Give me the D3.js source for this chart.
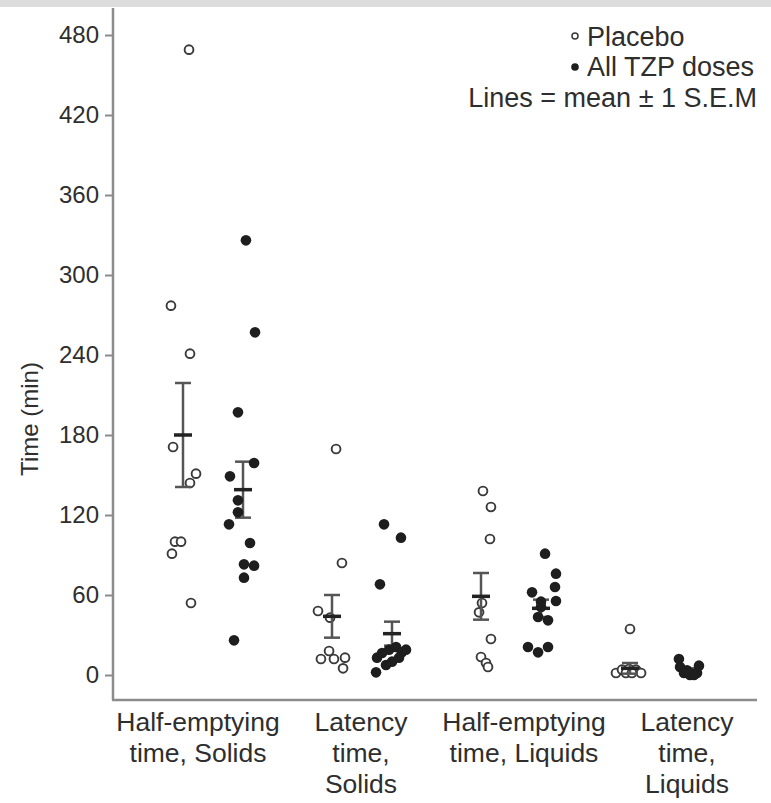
<!DOCTYPE html>
<html><head><meta charset="utf-8">
<script src="https://cdn.jsdelivr.net/npm/d3@7"></script>
<style>
html,body{margin:0;padding:0;background:#fff;}
svg{display:block;font-family:"Liberation Sans",Arial,Helvetica,sans-serif;}
</style></head>
<body><svg id="c" width="771" height="803"></svg>
<script>
// ---- data ----
const categories = ["HES", "LTS", "HEL", "LTL"];
const categoryLabels = [
  ["Half-emptying", "time, Solids"],
  ["Latency", "time,", "Solids"],
  ["Half-emptying", "time, Liquids"],
  ["Latency", "time,", "Liquids"]
];
const series = ["Placebo", "All TZP doses"];
const yTicks = [0, 60, 120, 180, 240, 300, 360, 420, 480];

const placeboValues = [
  [469, 277, 241, 171, 151, 144, 100, 100, 91, 54],
  [169.5, 84, 48, 43, 18, 12, 12, 13, 5],
  [138, 126, 102, 54, 47, 27, 13.5, 9, 6],
  [34.5, 1.5, 4, 4.5, 4, 1.5, 1.5, 1.5]
];
const placeboJitter = [
  [0.43, -0.86, 0.5, -0.71, 0.93, 0.5, -0.57, -0.14, -0.79, 0.57],
  [0.29, 0.71, -1.0, -0.14, -0.21, -0.79, 0.14, 0.93, 0.79],
  [0.14, 0.71, 0.64, 0.07, -0.14, 0.71, 0.0, 0.36, 0.5],
  [0.0, -1.0, -0.57, -0.07, 0.43, 0.79, -0.29, 0.14]
];
const tzpValues = [
  [326, 257, 197, 159, 149, 131, 122, 113, 99, 83, 82, 73, 26],
  [113, 103, 68, 13, 16.5, 19, 21, 17, 10, 7.5, 2, 13, 19],
  [91, 76, 66, 62, 55.5, 55, 51, 43.5, 41, 21, 17, 21],
  [12, 6, 1.5, 0, 1.5, 7, 0, 3.5]
];
const tzpJitter = [
  [0.21, 0.86, -0.36, 0.79, -0.93, -0.36, -0.36, -1.0, 0.5, 0.07, 0.79, 0.07, -0.64],
  [-0.57, 0.64, -0.86, -1.07, -0.71, -0.21, 0.29, 0.71, 0.0, -0.43, -1.14, 0.5, 1.0],
  [0.29, 1.07, 1.0, -0.64, 1.07, 0.0, 0.0, -0.21, 0.5, -0.93, -0.21, 0.5],
  [-0.79, -0.71, -0.43, 0.0, 0.5, 0.64, 0.29, -0.21]
];
const placeboMean = [180, 44, 59, 5];
const placeboSEM  = [39, 16, 17.5, 4];
const tzpMean = [139, 31, 50, 3.5];
const tzpSEM  = [21, 9, 6.5, 1.5];

// ---- drawing ----
const svg = d3.select("#c");
const textColor = "#2e2e2e";
const axisColor = "#8c8c8c";

svg.append("rect").attr("x", 0).attr("y", 0).attr("width", 771).attr("height", 7).attr("fill", "#dcdcdc");

const y = d3.scaleLinear().domain([0, 480]).range([675, 35]);
const xGroup = d3.scaleBand().domain(categories).range([138.5, 734.5]);
const xSeries = d3.scalePoint().domain(series).range([-30, 30]);
const xLabel = d3.scalePoint().domain(categories).range([198, 687]);
const jit = d3.scaleLinear().domain([-1, 1]).range([-14, 14]);
const cx = (ci, s) => xGroup(categories[ci]) + xGroup.bandwidth() / 2 + xSeries(s);

const axisX0 = 113, axisY0 = 700;

// y axis
const yAxis = d3.axisLeft(y).tickValues(yTicks).tickSize(8).tickPadding(6).tickSizeOuter(0);
const gy = svg.append("g").attr("transform", `translate(${axisX0},0)`).call(yAxis);
gy.select(".domain").remove();
gy.selectAll(".tick line").attr("stroke", axisColor).attr("stroke-width", 2);
gy.selectAll(".tick text").attr("fill", textColor).style("font-size", "24px")
  .style("font-family", "'Liberation Sans',Arial,sans-serif");
svg.append("line").attr("x1", axisX0).attr("x2", axisX0).attr("y1", 8).attr("y2", axisY0)
  .attr("stroke", axisColor).attr("stroke-width", 2.5);
svg.append("line").attr("x1", axisX0 - 1).attr("x2", 757).attr("y1", axisY0).attr("y2", axisY0)
  .attr("stroke", axisColor).attr("stroke-width", 2.5);

// y label
svg.append("text").attr("transform", "translate(38,419) rotate(-90)")
  .attr("text-anchor", "middle").attr("fill", textColor).style("font-size", "24px").text("Time (min)");

// category labels
categories.forEach((c, i) => {
  const t = svg.append("text").attr("text-anchor", "middle").attr("fill", textColor)
    .style("font-size", "26.5px");
  categoryLabels[i].forEach((line, k) => {
    t.append("tspan").attr("x", xLabel(c)).attr("y", 731 + k * 31).text(line);
  });
});

// error bars
function errorBar(ci, s, mean, sem) {
  const x = cx(ci, s);
  const g = svg.append("g");
  g.append("line").attr("x1", x).attr("x2", x).attr("y1", y(mean + sem)).attr("y2", y(mean - sem))
    .attr("stroke", "#555").attr("stroke-width", 2.5);
  [mean + sem, mean - sem].forEach(v => {
    g.append("line").attr("x1", x - 8).attr("x2", x + 8).attr("y1", y(v)).attr("y2", y(v))
      .attr("stroke", "#555").attr("stroke-width", 2.5);
  });
  g.append("line").attr("x1", x - 9).attr("x2", x + 9).attr("y1", y(mean)).attr("y2", y(mean))
    .attr("stroke", "#222").attr("stroke-width", 3.5);
}

// points
categories.forEach((c, ci) => {
  svg.append("g").selectAll("circle").data(placeboValues[ci]).join("circle")
    .attr("cx", (d, k) => cx(ci, series[0]) + jit(placeboJitter[ci][k]))
    .attr("cy", d => y(d)).attr("r", 4.4)
    .attr("fill", "#fff").attr("stroke", "#3a3a3a").attr("stroke-width", 1.9);
  errorBar(ci, series[0], placeboMean[ci], placeboSEM[ci]);
  errorBar(ci, series[1], tzpMean[ci], tzpSEM[ci]);
  svg.append("g").selectAll("circle").data(tzpValues[ci]).join("circle")
    .attr("cx", (d, k) => cx(ci, series[1]) + jit(tzpJitter[ci][k]))
    .attr("cy", d => y(d)).attr("r", 5.3)
    .attr("fill", "#1e1e1e");
});

// legend
const lg = svg.append("g");
lg.append("circle").attr("cx", 575).attr("cy", 36).attr("r", 3).attr("fill", "#fff")
  .attr("stroke", "#3a3a3a").attr("stroke-width", 1.5);
lg.append("text").attr("x", 587).attr("y", 46).attr("fill", textColor).style("font-size", "27px").text(series[0]);
lg.append("circle").attr("cx", 575).attr("cy", 67).attr("r", 3.8).attr("fill", "#1e1e1e");
lg.append("text").attr("x", 587).attr("y", 76).attr("fill", textColor).style("font-size", "27px").text(series[1]);
lg.append("text").attr("x", 757).attr("y", 107).attr("text-anchor", "end").attr("fill", textColor)
  .style("font-size", "27px").text("Lines = mean \u00b1 1 S.E.M");
</script></body></html>
